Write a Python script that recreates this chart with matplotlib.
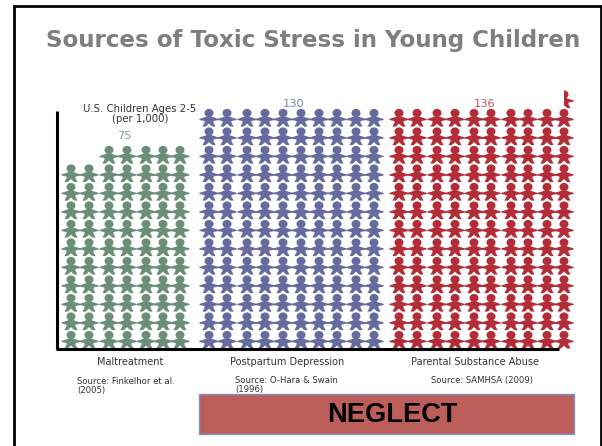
import numpy as np
import matplotlib
matplotlib.use("Agg")
import matplotlib.pyplot as plt
from matplotlib.patches import Rectangle

title = "Sources of Toxic Stress in Young Children"
categories = ["Maltreatment", "Postpartum Depression", "Parental Substance Abuse"]
sources = ["Source: Finkelhor et al.\n(2005)", "Source: O-Hara & Swain\n(1996)", "Source: SAMHSA (2009)"]
values = [75, 130, 136]
figures_drawn = [75, 130, 130.5]
colors = ["#6B8E78", "#666A9E", "#B22D38"]
label_colors = ["#7F9F8C", "#7F82AE", "#C8505A"]

W, H = 602, 446
fig = plt.figure(figsize=(W / 100, H / 100), dpi=100, facecolor="white")
ax = fig.add_axes([0, 0, 1, 1])
ax.set_xlim(0, W)
ax.set_ylim(H, 0)
ax.axis("off")
F = "DejaVu Sans"

# person glyph: offsets in px from head centre, y down
t = np.linspace(0, 2 * np.pi, 32)
head = np.c_[4.5 * np.cos(t), 4.1 * np.sin(t)]
right_side = [(2.0, 3.4), (4.6, 4.4), (9.6, 5.9), (9.6, 7.0), (4.6, 8.0), (4.4, 9.6), (6.6, 13.6), (3.2, 13.6), (0.0, 10.6)]
body = np.array(right_side + [(-x, y) for x, y in right_side[-2::-1]])
half_t = np.linspace(-np.pi / 2, np.pi / 2, 16)
half_head = np.c_[4.5 * np.cos(half_t), 4.1 * np.sin(half_t)]
half_body = np.array([(0.0, 3.4)] + right_side)
person_parts = [head, body]
half_parts = [half_head, half_body]


def draw(parts, x, y, color):
    for p in parts:
        ax.fill(p[:, 0] + x, p[:, 1] + y, color=color, lw=0)


# layout
col_x = [[71, 89, 109, 127, 146, 163, 180],
         [209, 227, 247, 265, 283, 301, 319, 337, 356, 374],
         [399, 417, 437, 455, 474, 491, 511, 528, 547, 564]]
bottom_head_y = 335
row_step = 18.5

for n, xs, c in zip(figures_drawn, col_x, colors):
    ncol = len(xs)
    whole = int(n)
    top_row = whole // ncol
    rem = whole % ncol
    for i in range(whole):
        row, col = i // ncol, i % ncol
        if row == top_row:
            col = ncol - rem + col
        draw(person_parts, xs[col], bottom_head_y - row * row_step, c)
    if n != whole:
        draw(half_parts, xs[-1], bottom_head_y - top_row * row_step, c)

# axis lines
ax.plot([57, 57], [111, 349], color="black", lw=2.2, solid_capstyle="butt", zorder=5)
ax.plot([56, 559], [349, 349], color="black", lw=2.2, solid_capstyle="butt", zorder=5)

# frame
ax.plot([13.5, 13.5, 600.5, 600.5], [H, 6, 6, H], color="black", lw=2, solid_joinstyle="miter")

ax.text(313, 41, title, family=F, weight="bold", size=16.6, color="#7F7F7F", ha="center", va="center")
ax.text(140, 113.5, "U.S. Children Ages 2-5\n(per 1,000)", family=F, size=7.3, color="#333333", ha="center", va="center", linespacing=1.0)

for v, x, y, c in zip(values, [124, 294, 485], [136, 104, 104], label_colors):
    ax.text(x, y, str(v), family=F, size=8.2, color=c, ha="center", va="center")
for t_, x in zip(categories, [130, 287.5, 475]):
    ax.text(x, 362, t_, family=F, size=7.05, color="#333333", ha="center", va="center")
for s, x, y in zip(sources, [77, 235, 431], [386, 385, 380]):
    ax.text(x, y, s, family=F, size=6.1, color="#333333", ha="left", va="center", linespacing=1.0)

ax.add_patch(Rectangle((199, 394), 375, 40, facecolor="#BC5F5A", edgecolor="#7A95C8", lw=1, zorder=3))
ax.text(392, 414.5, "NEGLECT", family="Liberation Sans", weight="bold", size=19.6, color="black", ha="center", va="center", zorder=4)

fig.savefig("out.png", dpi=100)
